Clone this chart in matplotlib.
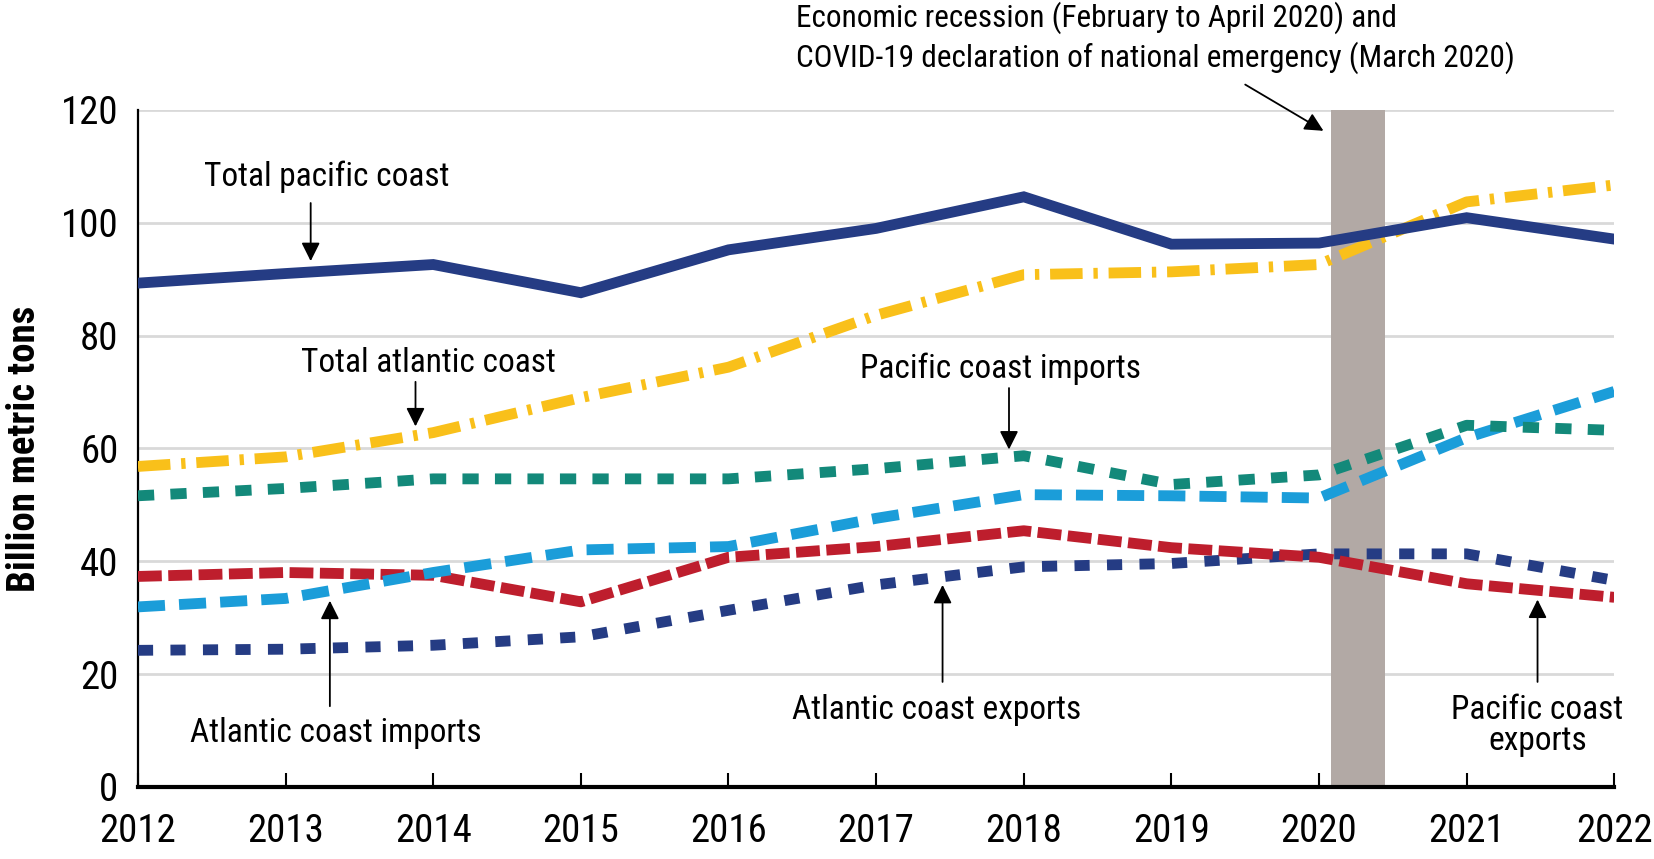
import matplotlib.pyplot as plt

plt.rcParams['font.family'] = ['Roboto Condensed', 'Archivo Narrow', 'Liberation Sans', 'DejaVu Sans']

years = [2012, 2013, 2014, 2015, 2016, 2017, 2018, 2019, 2020, 2021, 2022]
total_pacific = [89.3, 91.0, 92.6, 87.6, 95.2, 99.0, 104.6, 96.2, 96.4, 100.9, 97.1]
total_atlantic = [56.8, 58.5, 62.8, 69.0, 74.4, 83.6, 90.8, 91.3, 92.6, 103.7, 106.7]
pacific_imports = [51.6, 52.9, 54.6, 54.6, 54.6, 56.4, 58.7, 53.6, 55.3, 64.1, 63.2]
atlantic_imports = [31.9, 33.4, 38.0, 42.0, 42.6, 47.6, 51.8, 51.6, 51.2, 61.9, 70.1]
pacific_exports = [37.3, 38.0, 37.5, 32.8, 40.7, 42.6, 45.4, 42.4, 40.7, 36.0, 33.6]
atlantic_exports = [24.2, 24.4, 25.1, 26.6, 31.3, 35.8, 39.0, 39.6, 41.3, 41.3, 36.6]

recession = (2020.08, 2020.45)

navy = '#253c84'
lw = 7.8

fig = plt.figure(figsize=(16.54, 8.59), dpi=100)
ax = fig.add_axes([0.0834, 0.084, 0.8926, 0.788])

ax.axvspan(recession[0], recession[1], color='#b2a9a5', zorder=1, lw=0)

ax.plot(years, atlantic_exports, color=navy, lw=lw, dashes=(1.4, 1.6), dash_capstyle='butt', zorder=3)
ax.plot(years, pacific_exports, color='#be1e2d', lw=lw, dashes=(2.2, 0.6), dash_capstyle='butt', zorder=3)
ax.plot(years, atlantic_imports, color='#1b9dd9', lw=lw, dashes=(2.5, 1.3), dash_capstyle='butt', zorder=3)
ax.plot(years, pacific_imports, color='#13897a', lw=lw, dashes=(1.5, 1.5), dash_capstyle='butt', zorder=3)
ax.plot(years, total_atlantic, color='#f9c01a', lw=lw, dashes=(3.0, 1.0, 0.4, 1.0), dash_capstyle='butt', zorder=3)
ax.plot(years, total_pacific, color=navy, lw=lw, solid_joinstyle='miter', zorder=4)

ax.set_xlim(2012, 2022)
ax.set_ylim(0, 120)
ax.set_xticks(years)
ax.set_yticks(range(0, 121, 20))
ax.grid(axis='y', color='#d9d9d9', lw=2)
ax.set_axisbelow(True)
for s in ['top', 'right']:
    ax.spines[s].set_visible(False)
ax.spines['left'].set_linewidth(1.6)
ax.spines['bottom'].set_linewidth(3)
ax.spines['bottom'].set_zorder(5)
ax.tick_params(axis='x', direction='in', length=10, width=1.5, labelsize=28, pad=19)
ax.tick_params(axis='y', length=0, labelsize=28, pad=14)
ax.set_ylabel('Billion metric tons', fontsize=28, fontweight='bold')
ax.yaxis.set_label_coords(-0.064, 0.5)

arrow = dict(arrowstyle='-|>', color='black', lw=1.3, mutation_scale=28, shrinkA=0, shrinkB=0)
fs = 24

labels = [
    ('Total pacific coast', 2013.28, 108.2, 2013.17, 103.5, 93.2),
    ('Total atlantic coast', 2013.97, 75.2, 2013.88, 71.8, 63.9),
    ('Pacific coast imports', 2017.84, 74.1, 2017.90, 70.7, 59.8),
    ('Atlantic coast imports', 2013.34, 9.6, 2013.30, 14.3, 33.0),
    ('Atlantic coast exports', 2017.41, 13.7, 2017.45, 18.6, 35.8),
    ('Pacific coast\nexports', 2021.48, 10.9, 2021.48, 18.6, 33.2),
]
for text, tx, ty, ax_x, tail_y, tip_y in labels:
    ax.text(tx, ty, text, fontsize=fs, ha='center', va='center', linespacing=0.95, zorder=6)
    ax.annotate('', xy=(ax_x, tip_y), xytext=(ax_x, tail_y), arrowprops=arrow, zorder=6)

ax.text(2016.46, 132.8, 'Economic recession (February to April 2020) and\n'
        'COVID-19 declaration of national emergency (March 2020)',
        fontsize=22.5, ha='left', va='center', linespacing=1.3, clip_on=False)
ax.annotate('', xy=(2020.03, 116.3), xytext=(2019.5, 124.5), arrowprops=arrow,
            annotation_clip=False)

fig.savefig('out.png', dpi=100)
